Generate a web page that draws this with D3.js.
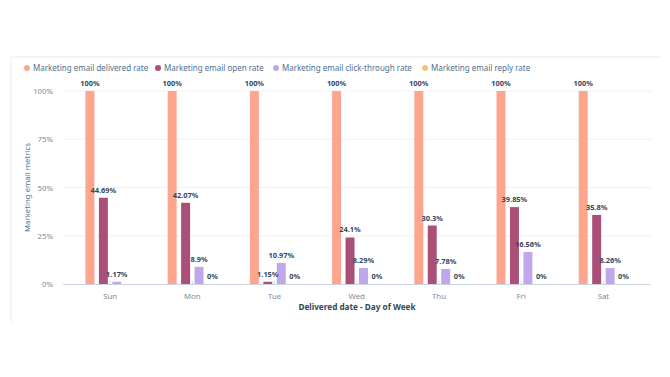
<!DOCTYPE html>
<html>
<head>
<meta charset="utf-8">
<script src="https://cdn.jsdelivr.net/npm/d3@7"></script>
<style>
  body { margin: 0; background: #fff; }
  svg { font-family: "Noto Sans", sans-serif; }
</style>
</head>
<body>
<svg id="canvas" width="670" height="377"></svg>
<script>
// chart data
const days = ['Sun', 'Mon', 'Tue', 'Wed', 'Thu', 'Fri', 'Sat']
const seriesNames = [
  'Marketing email delivered rate',
  'Marketing email open rate',
  'Marketing email click-through rate',
  'Marketing email reply rate'
]
const deliveredRate = [100, 100, 100, 100, 100, 100, 100]
const openRate = [44.69, 42.07, 1.15, 24.1, 30.3, 39.85, 35.8]
const clickRate = [1.17, 8.9, 10.97, 8.29, 7.78, 16.56, 8.26]
const replyRate = [null, 0, 0, 0, 0, 0, 0]
const yTicks = [0, 25, 50, 75, 100]
const colors = ['#fea58e', '#a94f78', '#c0a7ec', '#f5c37e']

const allSeries = [deliveredRate, openRate, clickRate, replyRate]

const canvas = d3.select('#canvas')

// faint card edges (top and left only show in the screenshot)
canvas.append('path')
  .attr('d', 'M11,322V57H661')
  .attr('fill', 'none')
  .attr('stroke', '#f2f2f2')
  .attr('stroke-width', 1.5)

const plotLeft = 63, plotRight = 652, plotTop = 91, plotBottom = 284

const x0 = d3.scaleBand()
  .domain(days)
  .range([69, 644.5])
  .paddingInner(0.4)
  .paddingOuter(0.2)

const x1 = d3.scaleBand()
  .domain(d3.range(4))
  .range([0, x0.bandwidth()])
  .paddingInner(0.333)

const yScale = d3.scaleLinear()
  .domain([0, 100])
  .range([plotBottom, plotTop])

// gridlines
canvas.append('g')
  .selectAll('line')
  .data(yTicks.filter(t => t > 0))
  .enter()
  .append('line')
  .attr('x1', plotLeft).attr('x2', plotRight)
  .attr('y1', d => yScale(d)).attr('y2', d => yScale(d))
  .attr('stroke', '#eef1f5')
  .attr('stroke-width', 1)

// y axis (labels only)
const yAxis = d3.axisLeft(yScale)
  .tickValues(yTicks)
  .tickFormat(d => d + '%')
  .tickSize(0)
  .tickPadding(10)

const yG = canvas.append('g')
  .attr('transform', `translate(${plotLeft}, 0)`)
  .call(yAxis)
yG.select('.domain').remove()
yG.selectAll('text')
  .attr('fill', '#7c8a9a')
  .style('font-size', '7.8px')
  .style('font-family', '"Noto Sans", sans-serif')

// bars
const rows = []
days.forEach((day, i) => {
  allSeries.forEach((s, k) => {
    if (s[i] !== null) rows.push({ day: day, k: k, value: s[i] })
  })
})

canvas.append('g')
  .selectAll('rect')
  .data(rows)
  .enter()
  .append('rect')
  .attr('x', d => x0(d.day) + x1(d.k))
  .attr('width', x1.bandwidth())
  .attr('y', d => yScale(d.value))
  .attr('height', d => plotBottom - yScale(d.value))
  .attr('fill', d => colors[d.k])

// x axis
const xAxis = d3.axisBottom(x0)
  .tickSize(-3)
  .tickPadding(9)

const xG = canvas.append('g')
  .attr('transform', `translate(0, ${plotBottom})`)
  .call(xAxis)
xG.select('.domain')
  .attr('d', `M${plotLeft},0.5H${plotRight - 2}`)
  .attr('stroke', '#cbd6e2')
xG.selectAll('.tick line').attr('stroke', '#cbd6e2')
xG.selectAll('text')
  .attr('fill', '#7c8a9a')
  .style('font-size', '7.8px')
  .style('font-family', '"Noto Sans", sans-serif')

// value labels
canvas.append('g')
  .selectAll('text')
  .data(rows)
  .enter()
  .append('text')
  .attr('x', d => x0(d.day) + x1(d.k) + x1.bandwidth() / 2)
  .attr('y', d => yScale(d.value) - 5)
  .attr('text-anchor', 'middle')
  .attr('fill', '#33475b')
  .style('font-size', '7.4px')
  .style('font-weight', 'bold')
  .text(d => d.value + '%')

// legend
const legendX = [27, 158, 276, 425]
const legend = canvas.append('g')
  .selectAll('g')
  .data(seriesNames)
  .enter()
  .append('g')
  .attr('transform', (d, i) => `translate(${legendX[i]}, 68)`)
legend.append('circle')
  .attr('r', 3)
  .attr('fill', (d, i) => colors[i])
legend.append('text')
  .attr('x', 6)
  .attr('y', 3)
  .attr('fill', '#516f90')
  .style('font-size', '8px')
  .text(d => d)

// axis titles
canvas.append('text')
  .attr('transform', `translate(30, ${(plotTop + plotBottom) / 2}) rotate(-90)`)
  .attr('text-anchor', 'middle')
  .attr('fill', '#516f90')
  .style('font-size', '7.8px')
  .text('Marketing email metrics')

canvas.append('text')
  .attr('x', 357)
  .attr('y', 310)
  .attr('text-anchor', 'middle')
  .attr('fill', '#33475b')
  .style('font-size', '8.2px')
  .style('font-weight', 'bold')
  .text('Delivered date - Day of Week')
</script>
</body>
</html>
